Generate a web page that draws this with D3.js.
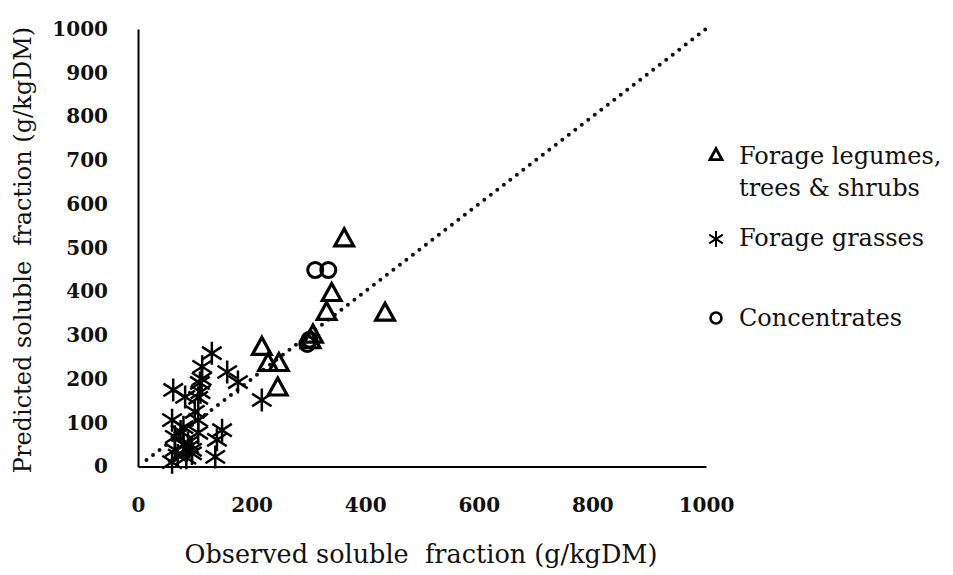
<!DOCTYPE html>
<html><head><meta charset="utf-8">
<script src="https://cdn.jsdelivr.net/npm/d3@7"></script>
<style>body{margin:0;background:#fff}svg{display:block}</style>
</head><body>
<svg id="c" width="953" height="575"></svg>
<script>
const xTicks = [0,200,400,600,800,1000];
const yTicks = [0,100,200,300,400,500,600,700,800,900,1000];
const legumesX = [363,341,332,435,308,304,218,229,248,246];
const legumesY = [521,396,353,351,301,288,273,236,236,180];
const grassesX = [130,113,157,176,218,62,109,83,106,60,106,148,65,88,95,65,136,139,106,60,80,100,112,110,75,85,90,80,95,70];
const grassesY = [259,228,216,193,152,175,191,159,157,106,106,83,68,54,38,38,22,61,77,10,90,125,200,170,80,20,45,50,30,25];
const concX = [312,335,298,302];
const concY = [449,449,280,290];
const lineX = [15,1000];
const lineY = [15,1000];
const legendLabels = [["Forage legumes,","trees & shrubs"],["Forage grasses"],["Concentrates"]];

const svg = d3.select("#c");
const x = d3.scaleLinear().domain([0,1000]).range([138,706]);
const y = d3.scaleLinear().domain([0,1000]).range([466.5,29]);
const font = "'DejaVu Serif', 'Liberation Serif', serif";

svg.append("g").attr("transform",`translate(0,${y(0)})`)
  .call(d3.axisBottom(x).tickValues(xTicks).tickSize(0).tickPadding(31).tickFormat(d3.format("d")))
  .call(g=>{g.select(".domain").attr("stroke","#000").attr("stroke-width",2);
    g.selectAll("text").attr("font-family",font).attr("font-size",20).attr("font-weight","bold").attr("fill","#111");});
svg.append("g").attr("transform",`translate(${x(0)},0)`)
  .call(d3.axisLeft(y).tickValues(yTicks).tickSize(0).tickPadding(30).tickFormat(d3.format("d")))
  .call(g=>{g.select(".domain").attr("stroke","#000").attr("stroke-width",2);
    g.selectAll("text").attr("font-family",font).attr("font-size",20).attr("font-weight","bold").attr("fill","#111");});

svg.append("line").attr("x1",x(lineX[0])).attr("y1",y(lineY[0])).attr("x2",x(lineX[1])).attr("y2",y(lineY[1]))
  .attr("stroke","#111").attr("stroke-width",4).attr("stroke-linecap","round").attr("stroke-dasharray","0 8.2");

function asterisk(g, cx, cy, s, sw){
  const p = `M${cx},${cy-s}L${cx},${cy+s}M${cx-s*0.85},${cy-s*0.55}L${cx+s*0.85},${cy+s*0.55}M${cx-s*0.85},${cy+s*0.55}L${cx+s*0.85},${cy-s*0.55}`;
  g.append("path").attr("d",p).attr("stroke","#000").attr("stroke-width",sw).attr("fill","none");
}
function triangle(g, cx, cy, s, sw){
  const h = s*0.95;
  g.append("path").attr("d",`M${cx},${cy-h*0.6}L${cx+s*0.55},${cy+h*0.45}L${cx-s*0.55},${cy+h*0.45}Z`)
   .attr("stroke","#000").attr("stroke-width",sw).attr("fill","none").attr("stroke-linejoin","miter");
}
const gm = svg.append("g");
grassesX.forEach((v,i)=>asterisk(gm, x(v), y(grassesY[i]), 11.5, 2.5));
legumesX.forEach((v,i)=>triangle(gm, x(v), y(legumesY[i]), 17, 3.2));
concX.forEach((v,i)=>gm.append("circle").attr("cx",x(v)).attr("cy",y(concY[i])).attr("r",7.5)
  .attr("fill","none").attr("stroke","#000").attr("stroke-width",3));

const lg = svg.append("g");
triangle(lg, 716, 155, 11, 2.8);
asterisk(lg, 716, 239, 8, 2);
lg.append("circle").attr("cx",716).attr("cy",318).attr("r",5.5).attr("fill","none").attr("stroke","#000").attr("stroke-width",2.6);
const ly = [[164,196],[246],[326]];
legendLabels.forEach((lines,i)=>lines.forEach((t,j)=>
  lg.append("text").attr("x",739).attr("y",ly[i][j]).text(t)
    .attr("font-family",font).attr("font-size",24).attr("fill","#111")));

svg.append("text").attr("x",421).attr("y",563).attr("text-anchor","middle")
  .attr("font-family",font).attr("font-size",25.5).attr("fill","#111").attr("xml:space","preserve")
  .text("Observed soluble  fraction (g/kgDM)");
svg.append("text").attr("transform","translate(31,250) rotate(-90)").attr("text-anchor","middle")
  .attr("font-family",font).attr("font-size",24).attr("fill","#111").attr("xml:space","preserve")
  .text("Predicted soluble  fraction (g/kgDM)");
</script>
</body></html>
